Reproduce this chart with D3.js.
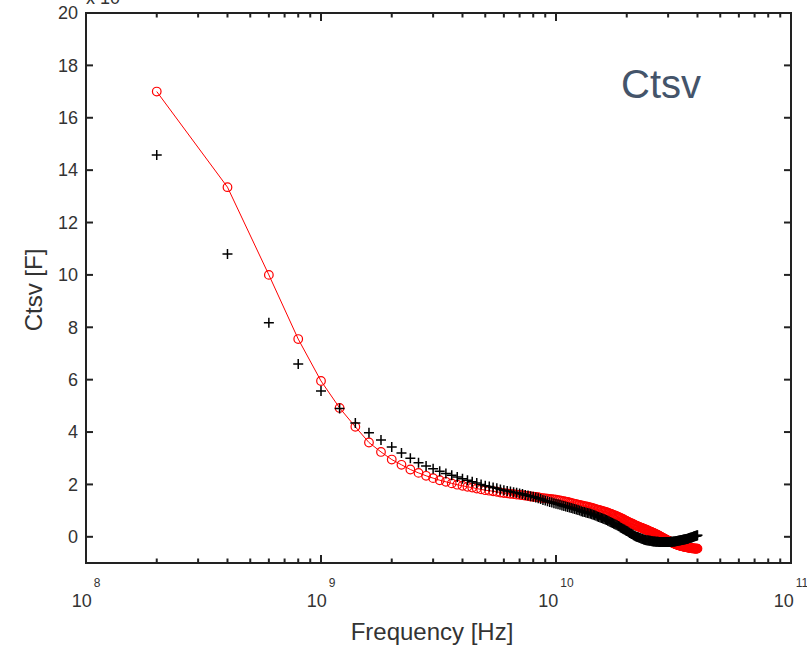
<!DOCTYPE html>
<html>
<head>
<meta charset="utf-8">
<script src="https://cdn.jsdelivr.net/npm/d3@7"></script>
<style>
  body { margin: 0; background: #fff; }
  svg { display: block; font-family: "Liberation Sans", Arial, sans-serif; }
</style>
</head>
<body>
<div id="chart"></div>
<script>
// Frequency grid: one sample every 0.2 GHz, first sample at 0.2 GHz
const freqStepHz = 2e8;

// Red series (circles joined by a line), units of the axis multiplier
const ctsvRed = [
  17.0, 13.35, 10.0, 7.55, 5.95, 4.92, 4.2, 3.6, 3.24, 2.95,
  2.75, 2.57, 2.44, 2.33, 2.24, 2.16, 2.1, 2.04, 1.99, 1.95,
  1.91, 1.88, 1.84, 1.81, 1.78, 1.76, 1.74, 1.72, 1.69, 1.67,
  1.66, 1.64, 1.63, 1.61, 1.6, 1.59, 1.57, 1.56, 1.54, 1.53,
  1.52, 1.51, 1.49, 1.48, 1.47, 1.46, 1.45, 1.44, 1.43, 1.42,
  1.40, 1.39, 1.37, 1.36, 1.34, 1.33, 1.31, 1.29, 1.28, 1.26,
  1.25, 1.23, 1.22, 1.2, 1.19, 1.17, 1.16, 1.15, 1.13, 1.12,
  1.1, 1.09, 1.07, 1.06, 1.04, 1.03, 1.01, 1.0, 0.98, 0.97,
  0.95, 0.94, 0.92, 0.9, 0.88, 0.87, 0.85, 0.83, 0.82, 0.8,
  0.78, 0.76, 0.74, 0.72, 0.7, 0.68, 0.66, 0.64, 0.62, 0.6,
  0.58, 0.56, 0.54, 0.52, 0.51, 0.49, 0.47, 0.45, 0.44, 0.42,
  0.41, 0.39, 0.38, 0.36, 0.35, 0.34, 0.32, 0.31, 0.29, 0.28,
  0.27, 0.25, 0.24, 0.23, 0.21, 0.2, 0.19, 0.17, 0.16, 0.15,
  0.13, 0.12, 0.1, 0.09, 0.07, 0.06, 0.04, 0.03, 0.01, 0.0,
  -0.02, -0.03, -0.05, -0.06, -0.08, -0.09, -0.11, -0.12, -0.14, -0.15,
  -0.16, -0.17, -0.19, -0.2, -0.21, -0.22, -0.23, -0.25, -0.26, -0.27,
  -0.28, -0.29, -0.29, -0.3, -0.31, -0.32, -0.33, -0.33, -0.34, -0.35,
  -0.35, -0.36, -0.36, -0.37, -0.37, -0.38, -0.38, -0.39, -0.39, -0.4,
  -0.4, -0.41, -0.41, -0.41, -0.42, -0.42, -0.43, -0.43, -0.44, -0.44,
  -0.44, -0.44, -0.44, -0.45, -0.45, -0.45, -0.45, -0.45, -0.45, -0.45
];

// Black series (plus markers)
const ctsvBlack = [
  14.58, 10.8, 8.17, 6.6, 5.57, 4.9, 4.35, 3.97, 3.7, 3.43,
  3.2, 3.0, 2.83, 2.7, 2.6, 2.5, 2.42, 2.35, 2.28, 2.22,
  2.16, 2.1, 2.05, 2.0, 1.95, 1.92, 1.88, 1.85, 1.81, 1.78,
  1.75, 1.73, 1.7, 1.68, 1.65, 1.63, 1.6, 1.58, 1.55, 1.53,
  1.5, 1.47, 1.44, 1.41, 1.39, 1.36, 1.33, 1.31, 1.28, 1.26,
  1.24, 1.22, 1.2, 1.18, 1.16, 1.14, 1.12, 1.1, 1.08, 1.06,
  1.04, 1.02, 1.0, 0.98, 0.96, 0.95, 0.93, 0.91, 0.9, 0.88,
  0.86, 0.84, 0.82, 0.8, 0.78, 0.76, 0.74, 0.72, 0.7, 0.68,
  0.66, 0.64, 0.61, 0.59, 0.57, 0.55, 0.53, 0.5, 0.48, 0.46,
  0.44, 0.41, 0.39, 0.36, 0.34, 0.31, 0.29, 0.27, 0.24, 0.22,
  0.2, 0.17, 0.15, 0.13, 0.11, 0.09, 0.06, 0.04, 0.02, 0.0,
  -0.01, -0.02, -0.04, -0.05, -0.06, -0.07, -0.08, -0.1, -0.11, -0.12,
  -0.13, -0.13, -0.14, -0.14, -0.15, -0.15, -0.16, -0.17, -0.17, -0.18,
  -0.18, -0.18, -0.19, -0.19, -0.19, -0.19, -0.2, -0.2, -0.2, -0.2,
  -0.2, -0.2, -0.2, -0.2, -0.2, -0.2, -0.2, -0.2, -0.2, -0.2,
  -0.2, -0.2, -0.2, -0.19, -0.19, -0.19, -0.19, -0.18, -0.18, -0.18,
  -0.17, -0.17, -0.16, -0.16, -0.15, -0.15, -0.14, -0.14, -0.13, -0.13,
  -0.12, -0.12, -0.11, -0.11, -0.1, -0.1, -0.09, -0.09, -0.08, -0.08,
  -0.07, -0.07, -0.06, -0.05, -0.05, -0.04, -0.04, -0.03, -0.03, -0.02,
  -0.01, 0.0, 0.01, 0.02, 0.02, 0.03, 0.04, 0.04, 0.05, 0.06
];

const yTicks = [0, 2, 4, 6, 8, 10, 12, 14, 16, 18, 20];
const xDecades = [1e8, 1e9, 1e10, 1e11];
const xDecadeExponents = ["8", "9", "10", "11"];

const width = 807, height = 645;
const plot = { left: 86, right: 791, top: 13, bottom: 563 };

const svg = d3.select("#chart").append("svg")
    .attr("width", width)
    .attr("height", height);

const x = d3.scaleLog().domain([1e8, 1e11]).range([plot.left, plot.right]);
const y = d3.scaleLinear().domain([-1, 20]).range([plot.bottom, plot.top]);

const freqs = ctsvRed.map((_, i) => (i + 1) * freqStepHz);
const redData = ctsvRed.map((v, i) => ({ f: freqs[i], v }));
const blackData = ctsvBlack.map((v, i) => ({ f: freqs[i], v }));

// minor log ticks 2..9 in each decade
const minorTicks = [];
xDecades.slice(0, 3).forEach(d => {
    for (let m = 2; m <= 9; m++) minorTicks.push(d * m);
});

const axisColor = "#222";
const labelColor = "#333";
const fontFamily = "'Liberation Sans', Arial, sans-serif";

// frame
svg.append("rect")
    .attr("x", plot.left)
    .attr("y", plot.top)
    .attr("width", plot.right - plot.left)
    .attr("height", plot.bottom - plot.top)
    .attr("fill", "none")
    .attr("stroke", axisColor)
    .attr("stroke-width", 2);

// ---- inward tick marks on all four sides (MATLAB style)
const ticks = svg.append("g")
    .attr("stroke", axisColor)
    .attr("stroke-width", 2)
    .attr("fill", "none");

yTicks.forEach(v => {
    const py = y(v);
    ticks.append("path").attr("d", `M${plot.left},${py}H${plot.left + 7}`);
    ticks.append("path").attr("d", `M${plot.right},${py}H${plot.right - 7}`);
});

const xTickMarks = xDecades.map(d => ({ v: d, len: 8 }))
    .concat(minorTicks.map(d => ({ v: d, len: 4.5 })));
xTickMarks.forEach(t => {
    const px = x(t.v);
    ticks.append("path").attr("d", `M${px},${plot.bottom}V${plot.bottom - t.len}`);
    ticks.append("path").attr("d", `M${px},${plot.top}V${plot.top + t.len}`);
});

// y tick labels
svg.append("g")
    .attr("fill", labelColor)
    .style("font-family", fontFamily)
    .style("font-size", "18px")
    .selectAll("text")
    .data(yTicks)
    .enter()
    .append("text")
    .attr("x", plot.left - 8)
    .attr("y", d => y(d))
    .attr("dy", "0.35em")
    .attr("text-anchor", "end")
    .text(d => d);

// decade labels 10^n
const xLabels = svg.append("g").attr("fill", labelColor)
    .style("font-family", fontFamily);
xDecades.forEach((d, i) => {
    const t = xLabels.append("text")
        .attr("x", x(d))
        .attr("y", 607)
        .attr("text-anchor", "middle")
        .style("font-size", "18px");
    t.append("tspan").text("10");
    t.append("tspan")
        .attr("dy", -20)
        .attr("dx", 2)
        .style("font-size", "12px")
        .text(xDecadeExponents[i]);
});

// multiplier, cut off at the top edge like the original
svg.append("text")
    .attr("x", plot.left)
    .attr("y", 4)
    .attr("fill", labelColor)
    .style("font-size", "18px")
    .text("x 10");

// ---- data
const plotArea = svg.append("g");

plotArea.append("path")
    .datum(redData)
    .attr("fill", "none")
    .attr("stroke", "#ff0000")
    .attr("stroke-width", 1)
    .attr("d", d3.line().x(d => x(d.f)).y(d => y(d.v)));

plotArea.selectAll(".red-pt")
    .data(redData)
    .enter()
    .append("circle")
    .attr("class", "red-pt")
    .attr("cx", d => x(d.f))
    .attr("cy", d => y(d.v))
    .attr("r", 4.3)
    .attr("fill", "none")
    .attr("stroke", "#ff0000")
    .attr("stroke-width", 1.2);

const plusSize = 5;
plotArea.selectAll(".black-pt")
    .data(blackData)
    .enter()
    .append("path")
    .attr("class", "black-pt")
    .attr("d", d => {
        const cx = x(d.f), cy = y(d.v);
        return `M${cx - plusSize},${cy}H${cx + plusSize}M${cx},${cy - plusSize}V${cy + plusSize}`;
    })
    .attr("stroke", "#000")
    .attr("stroke-width", 1.5)
    .attr("fill", "none");

// ---- axis titles
svg.append("text")
    .attr("x", 432)
    .attr("y", 640)
    .attr("text-anchor", "middle")
    .attr("fill", labelColor)
    .style("font-size", "24px")
    .text("Frequency [Hz]");

svg.append("text")
    .attr("transform", "translate(42,290) rotate(-90)")
    .attr("text-anchor", "middle")
    .attr("fill", labelColor)
    .style("font-size", "24px")
    .text("Ctsv [F]");

// annotation
svg.append("text")
    .attr("x", 661)
    .attr("y", 98)
    .attr("text-anchor", "middle")
    .attr("fill", "#44546A")
    .style("font-size", "40px")
    .text("Ctsv");
</script>
</body>
</html>
